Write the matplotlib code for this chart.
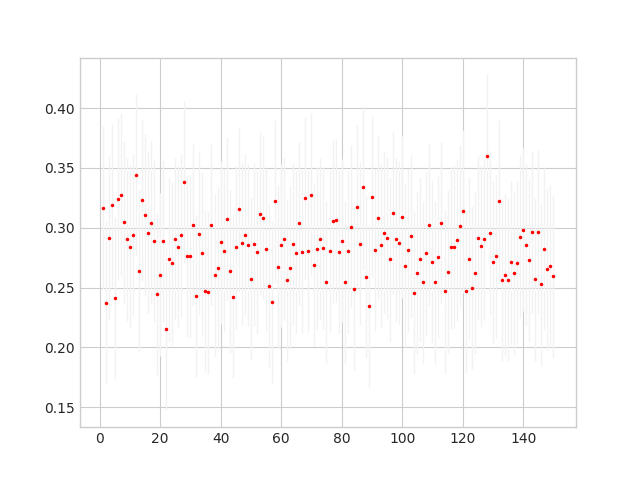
import matplotlib
matplotlib.use("Agg")
import matplotlib.pyplot as plt
import numpy as np

plt.style.use('seaborn-v0_8-whitegrid')
plt.rcParams['font.family'] = ['DejaVu Sans']

# x positions 1..150
x = np.arange(1, 151)

y = [0.3167, 0.2375, 0.2916, 0.3187, 0.2412, 0.3240, 0.3276, 0.3045, 0.2902, 0.2841,
     0.2939, 0.3440, 0.2640, 0.3232, 0.3106, 0.2958, 0.3042, 0.2891, 0.2446, 0.2607,
     0.2889, 0.2153, 0.2735, 0.2702, 0.2905, 0.2839, 0.2936, 0.3382, 0.2763, 0.2763,
     0.3022, 0.2429, 0.2950, 0.2785, 0.2471, 0.2459, 0.3022, 0.2601, 0.2660, 0.2877,
     0.2808, 0.3072, 0.2635, 0.2423, 0.2836, 0.3153, 0.2869, 0.2939, 0.2855, 0.2574,
     0.2861, 0.2794, 0.3117, 0.3084, 0.2819, 0.2515, 0.2379, 0.3220, 0.2674, 0.2852,
     0.2908, 0.2563, 0.2666, 0.2864, 0.2791, 0.3036, 0.2799, 0.3248, 0.2805, 0.3276,
     0.2688, 0.2824, 0.2905, 0.2830, 0.2546, 0.2805, 0.3053, 0.3061, 0.2799, 0.2891,
     0.2543, 0.2802, 0.3008, 0.2490, 0.3176, 0.2866, 0.3337, 0.2590, 0.2342, 0.3256,
     0.2814, 0.3084, 0.2852, 0.2958, 0.2914, 0.2735, 0.3125, 0.2902, 0.2875, 0.3089,
     0.2682, 0.2810, 0.2930, 0.2457, 0.2621, 0.2735, 0.2546, 0.2785, 0.3022, 0.2716,
     0.2543, 0.2755, 0.3039, 0.2468, 0.2632, 0.2836, 0.2841, 0.2897, 0.3014, 0.3137,
     0.2468, 0.2741, 0.2498, 0.2621, 0.2916, 0.2847, 0.2905, 0.3602, 0.2958, 0.2710,
     0.2760, 0.3220, 0.2565, 0.2604, 0.2565, 0.2710, 0.2618, 0.2707, 0.2925, 0.2983,
     0.2855, 0.2727, 0.2964, 0.2568, 0.2967, 0.2526, 0.2822, 0.2655, 0.2680, 0.2593]

# error (same for every point)
dy = 0.068

plt.errorbar(x, y, yerr=dy, fmt='.', color='red', ecolor='#f2f2f2',
             elinewidth=1, capsize=0, markersize=3)

plt.savefig('out.png')
